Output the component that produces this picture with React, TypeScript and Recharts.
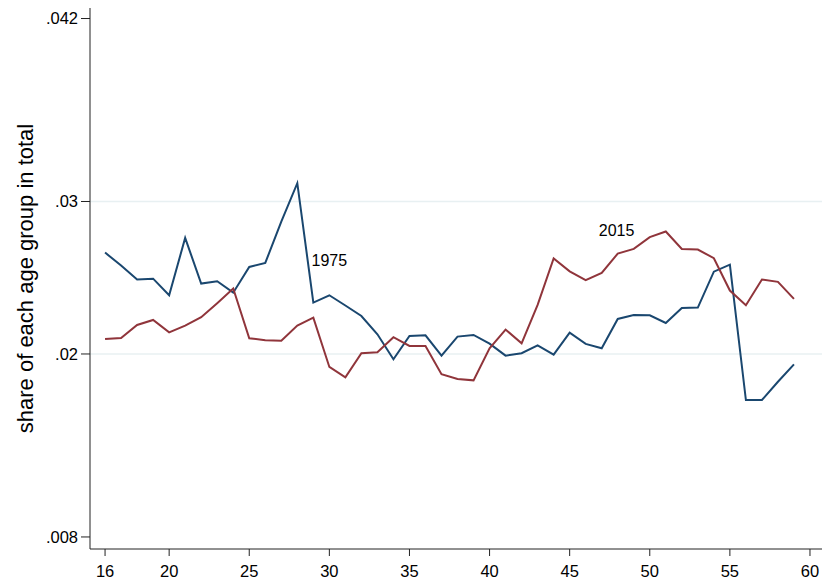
import React from 'react'
import { LineChart, Line, XAxis, YAxis, CartesianGrid, ReferenceDot } from 'recharts'

// age groups 16..59
const ages = [
  16, 17, 18, 19, 20, 21, 22, 23, 24, 25, 26, 27, 28, 29, 30, 31, 32, 33, 34, 35, 36, 37,
  38, 39, 40, 41, 42, 43, 44, 45, 46, 47, 48, 49, 50, 51, 52, 53, 54, 55, 56, 57, 58, 59,
]

const share1975 = [
  0.02665, 0.0258, 0.02488, 0.02494, 0.02385, 0.02761, 0.02462, 0.02477, 0.02402, 0.02571,
  0.02597, 0.02868, 0.0312, 0.02337, 0.02385, 0.02318, 0.02249, 0.02129, 0.01965, 0.02118,
  0.02122, 0.01989, 0.02114, 0.02125, 0.02068, 0.01989, 0.02005, 0.02057, 0.01996, 0.0214,
  0.02066, 0.02037, 0.0223, 0.02256, 0.02254, 0.02203, 0.02302, 0.02304, 0.0254, 0.02586,
  0.01698, 0.01698, 0.01818, 0.01932,
]

const share2015 = [
  0.02098, 0.02105, 0.0219, 0.02223, 0.02142, 0.02186, 0.02241, 0.02333, 0.02429, 0.02103,
  0.0209, 0.02087, 0.02186, 0.02238, 0.01915, 0.01847, 0.02005, 0.02011, 0.0211, 0.02053,
  0.02053, 0.01867, 0.01836, 0.01827, 0.02037, 0.0216, 0.0207, 0.02322, 0.02626, 0.02542,
  0.02484, 0.02532, 0.02658, 0.02689, 0.02766, 0.02803, 0.02689, 0.02685, 0.02628, 0.02416,
  0.0232, 0.02488, 0.02473, 0.02361,
]

const xTicks = [16, 20, 25, 30, 35, 40, 45, 50, 55, 60]
const yTicks = [0.008, 0.02, 0.03, 0.042]
const gridValues = [0.02, 0.03]

const data = ages.map((age, i) => ({ age, y1975: share1975[i], y2015: share2015[i] }))

const BLUE = '#1a476f'
const RED = '#90353b'
const AXIS = '#222'
const FONT = '"Liberation Sans", Arial, sans-serif'

const YTitle = (props: any) => {
  const vb = props.viewBox || { y: 8, height: 541 }
  const cx = 25
  const cy = vb.y + vb.height / 2
  return (
    <text
      x={cx}
      y={cy}
      transform={`rotate(-90 ${cx} ${cy})`}
      textAnchor="middle"
      dominantBaseline="central"
      fontSize={22}
      fill="#000"
      fontFamily={FONT}
    >
      share of each age group in total
    </text>
  )
}

export default function App() {
  return (
    <div style={{ position: 'absolute', left: 0, top: 0, width: 822, height: 584, background: '#fff', fontFamily: FONT }}>
      <LineChart width={822} height={584} data={data} margin={{ top: 8, right: 0, bottom: 0, left: 0 }}>
        <CartesianGrid vertical={false} horizontalValues={gridValues} stroke="#e8f0f2" strokeWidth={1.5} />
        <XAxis
          dataKey="age"
          type="number"
          domain={[15.06, 60.75]}
          allowDataOverflow
          ticks={xTicks}
          interval={0}
          height={35}
          tickSize={7}
          tickMargin={9}
          stroke={AXIS}
          tick={{ fill: '#000', fontSize: 16.5, fontFamily: FONT }}
        />
        <YAxis
          type="number"
          domain={[0.00721, 0.04269]}
          allowDataOverflow
          ticks={yTicks}
          interval={0}
          width={90}
          tickSize={9}
          tickMargin={3}
          stroke={AXIS}
          tick={{ fill: '#000', fontSize: 16.5, fontFamily: FONT }}
          tickFormatter={(v: number) => String(v).replace(/^0/, '')}
          label={<YTitle />}
        />
        <Line type="linear" dataKey="y1975" stroke={BLUE} strokeWidth={2} dot={false} isAnimationActive={false} />
        <Line type="linear" dataKey="y2015" stroke={RED} strokeWidth={2} dot={false} isAnimationActive={false} />
        <ReferenceDot
          x={30}
          y={0.02614}
          r={0}
          stroke="none"
          label={{ value: '1975', position: 'center', fontSize: 16, fill: '#000', fontFamily: FONT }}
        />
        <ReferenceDot
          x={47.93}
          y={0.02814}
          r={0}
          stroke="none"
          label={{ value: '2015', position: 'center', fontSize: 16, fill: '#000', fontFamily: FONT }}
        />
      </LineChart>
    </div>
  )
}
